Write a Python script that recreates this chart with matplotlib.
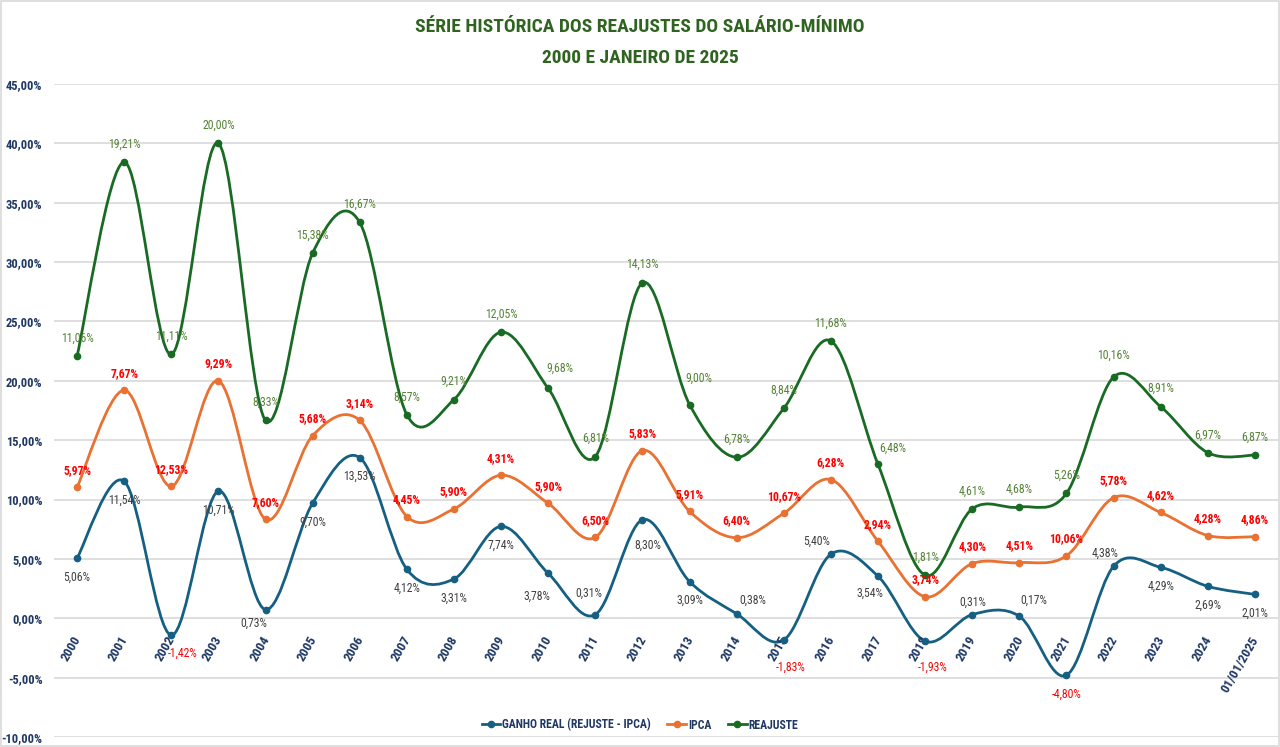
import numpy as np
import matplotlib
matplotlib.use('Agg')
import matplotlib.pyplot as plt
from matplotlib import font_manager
from matplotlib.path import Path
from matplotlib.patches import PathPatch, Rectangle
from matplotlib.lines import Line2D

# pick a narrow font if the machine has one
fonts = font_manager.fontManager.ttflist
names = {f.name for f in fonts}
narrow = None
for cand in ['Liberation Sans Narrow', 'Roboto Condensed', 'Open Sans Condensed', 'Noto Sans Condensed']:
    if cand in names:
        narrow = (cand, 'normal')
        break
if narrow is None:
    for fam in ['Roboto', 'Noto Sans', 'Open Sans', 'DejaVu Sans']:
        if any(f.name == fam and f.stretch in ('condensed', 'semi-condensed', 75, 87.5) for f in fonts):
            narrow = (fam, 'condensed')
            break
if narrow is None:
    narrow = ('Liberation Sans', 'normal')
FAM, STRETCH = narrow
SC = 1.0 if narrow[0] != 'Liberation Sans' else 0.9

plt.rcParams['font.family'] = [FAM, 'DejaVu Sans']
plt.rcParams['font.stretch'] = STRETCH

# data (percent values as printed on the labels)
years = [str(y) for y in range(2000, 2025)] + ['01/01/2025']
ganho_real = [5.06, 11.54, -1.42, 10.71, 0.73, 9.70, 13.53, 4.12, 3.31, 7.74, 3.78, 0.31, 8.30,
              3.09, 0.38, -1.83, 5.40, 3.54, -1.93, 0.31, 0.17, -4.80, 4.38, 4.29, 2.69, 2.01]
ipca = [5.97, 7.67, 12.53, 9.29, 7.60, 5.68, 3.14, 4.45, 5.90, 4.31, 5.90, 6.50, 5.83,
        5.91, 6.40, 10.67, 6.28, 2.94, 3.74, 4.30, 4.51, 10.06, 5.78, 4.62, 4.28, 4.86]
reajuste = [11.06, 19.21, 11.11, 20.00, 8.33, 15.38, 16.67, 8.57, 9.21, 12.05, 9.68, 6.81, 14.13,
            9.00, 6.78, 8.84, 11.68, 6.48, 1.81, 4.61, 4.68, 5.26, 10.16, 8.91, 6.97, 6.87]

NAVY = '#1F3864'
C_BLUE, C_ORANGE, C_GREEN = '#156082', '#E97132', '#196B24'

# label offsets in pixels (dx, dy)
blue_off = {2: (11, -18), 4: (-12, -14), 10: (-11, -23), 11: (-7, 21), 12: (5, -26),
            14: (16, 13), 15: (7, -27), 16: (-14, 13), 17: (-8, -17), 18: (7, -26),
            19: (1, 12), 20: (14, 16), 22: (-8, 13)}
green_off = {10: (12, 20), 13: (9, 26), 17: (15, 16), 22: (0, 22)}


def smooth_path(x, y):
    # excel-like smoothed line: catmull-rom converted to cubic bezier
    pts = np.column_stack([x, y])
    verts = [pts[0]]
    codes = [Path.MOVETO]
    n = len(pts)
    for i in range(n - 1):
        p0 = pts[max(i - 1, 0)]
        p1 = pts[i]
        p2 = pts[i + 1]
        p3 = pts[min(i + 2, n - 1)]
        c1 = p1 + (p2 - p0) / 6.0
        c2 = p2 - (p3 - p1) / 6.0
        verts += [c1, c2, p2]
        codes += [Path.CURVE4] * 3
    return Path(verts, codes)


fig = plt.figure(figsize=(12.8, 7.47), dpi=100)
fig.patches.append(Rectangle((0.0008, 0.0013), 0.9984, 0.9974, transform=fig.transFigure,
                             fill=False, edgecolor='#D9D9D9', lw=1.2))
ax = fig.add_axes([53.5 / 1280, 10 / 747, 1225 / 1280, 653 / 747])

x = np.arange(len(years))
s1 = np.array(ganho_real)
s2 = s1 + np.array(ipca)
s3 = s2 + np.array(reajuste)

for yy, col in [(s1, C_BLUE), (s2, C_ORANGE), (s3, C_GREEN)]:
    ax.add_patch(PathPatch(smooth_path(x, yy), fill=False, edgecolor=col, lw=2.0,
                           capstyle='round', joinstyle='round', zorder=3))
    ax.plot(x, yy, 'o', color=col, ms=4.5, zorder=4)

fs = 8.5 * SC
# data labels
for i in range(len(years)):
    dx, dy = blue_off.get(i, (0, -19))
    neg = ganho_real[i] < 0
    ax.annotate(f'{ganho_real[i]:.2f}%'.replace('.', ','), (x[i], s1[i]),
                xytext=(dx, dy), textcoords='offset pixels', ha='center', va='center',
                fontsize=fs, color='#FF0000' if neg else '#404040', zorder=5)
    ax.annotate(f'{ipca[i]:.2f}%'.replace('.', ','), (x[i], s2[i]),
                xytext=(0, 17), textcoords='offset pixels', ha='center', va='center',
                fontsize=fs, fontweight='bold', color='#FF0000', zorder=5)
    dx, dy = green_off.get(i, (0, 18))
    ax.annotate(f'{reajuste[i]:.2f}%'.replace('.', ','), (x[i], s3[i]),
                xytext=(dx, dy), textcoords='offset pixels', ha='center', va='center',
                fontsize=fs, color='#548235', zorder=5)

    # category labels sit on the zero line
    ax.annotate(years[i], (x[i], 0), xytext=(1, -19), textcoords='offset pixels',
                rotation=60, rotation_mode='anchor', ha='right', va='center',
                fontsize=9.5 * SC, fontweight='bold', color=NAVY)

ax.set_xlim(-0.5, len(years) - 0.5)
ax.set_ylim(-10, 45)
ax.set_yticks(np.arange(-10, 46, 5))
ax.set_yticklabels([f'{v:.2f}%'.replace('.', ',') for v in np.arange(-10, 46, 5)],
                   fontsize=9 * SC, fontweight='bold', color=NAVY)
ax.set_xticks([])
ax.tick_params(axis='y', length=0, pad=8)
ax.grid(axis='y', color='#D9D9D9', lw=1.2)
ax.set_axisbelow(True)
for sp in ax.spines.values():
    sp.set_visible(False)

fig.text(0.5, 1 - 27 / 747, 'SÉRIE HISTÓRICA DOS REAJUSTES DO SALÁRIO-MÍNIMO',
         ha='center', va='center', fontsize=14 * SC, fontweight='bold', color='#2F6320')
fig.text(0.5, 1 - 58 / 747, '2000 E JANEIRO DE 2025',
         ha='center', va='center', fontsize=14 * SC, fontweight='bold', color='#2F6320')

handles = [Line2D([], [], color=c, lw=2, marker='o', ms=4.5) for c in (C_BLUE, C_ORANGE, C_GREEN)]
leg = fig.legend(handles, ['GANHO REAL (REJUSTE - IPCA)', 'IPCA', 'REAJUSTE'],
                 loc='center', bbox_to_anchor=(0.5, 1 - 725 / 747), ncol=3, frameon=False,
                 fontsize=8.5 * SC, handlelength=1.6, handletextpad=0.15, columnspacing=1.4)
for t in leg.get_texts():
    t.set_color(NAVY)
    t.set_fontweight('bold')

fig.savefig('out.png', dpi=100)
